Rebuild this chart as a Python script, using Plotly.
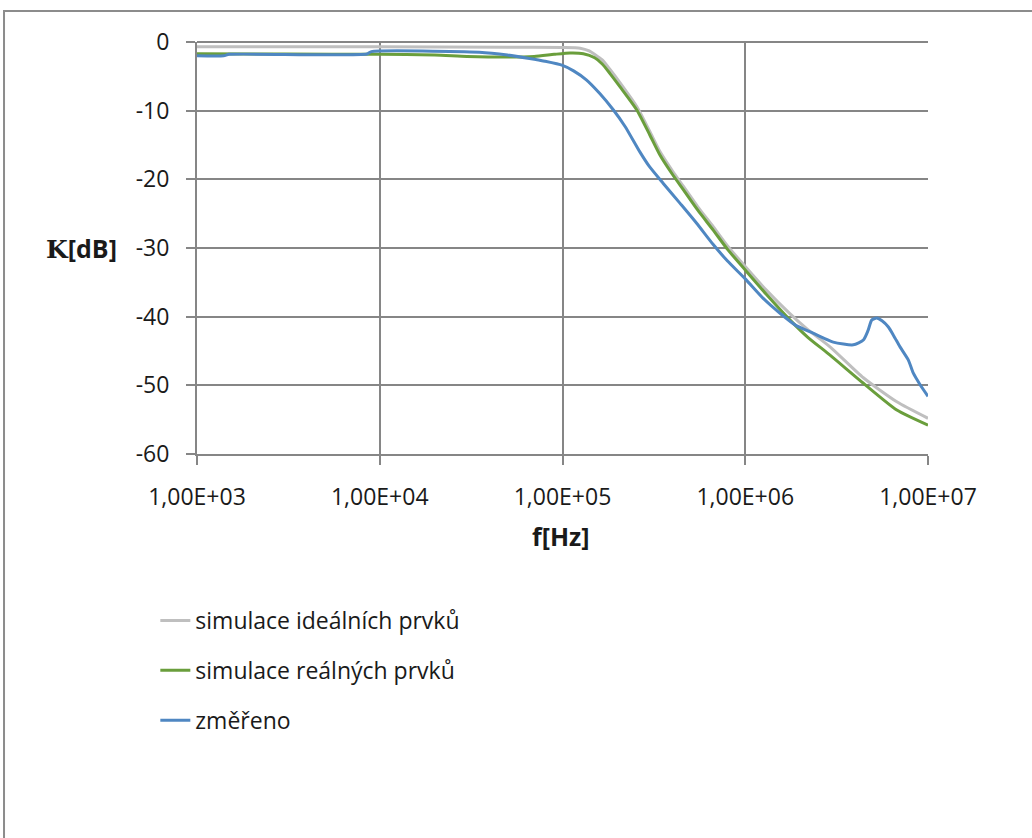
import plotly.graph_objects as go

# ---- data ----
f_ideal = [1e3, 1e4, 5e4, 1e5, 1.25e5, 1.4e5, 1.5e5, 1.65e5, 1.82e5, 2.1e5, 2.55e5,
           3.0e5, 3.42e5, 4e5, 4.58e5, 5.5e5, 6.68e5, 8e5, 1e6, 1.3e6, 1.76e6,
           2.2e6, 2.91e6, 4.43e6, 6.75e6, 1e7]
k_ideal = [-0.7, -0.7, -0.75, -0.8, -0.9, -1.3, -1.8, -2.6, -4.0, -6.2, -9.4,
           -13.0, -16.0, -18.8, -21.0, -24.0, -26.9, -29.7, -32.7, -36.1, -39.6,
           -41.9, -44.4, -48.9, -52.4, -54.8]

f_real = [1e3, 3e3, 1e4, 2e4, 3e4, 5e4, 7e4, 9e4, 1.1e5, 1.3e5, 1.5e5, 1.65e5, 1.82e5,
          2.1e5, 2.55e5, 3.0e5, 3.42e5, 4e5, 4.58e5, 5.5e5, 6.68e5, 8e5, 1e6, 1.3e6,
          1.76e6, 2.2e6, 2.91e6, 4.43e6, 6.75e6, 1e7]
k_real = [-1.7, -1.75, -1.8, -1.9, -2.1, -2.2, -2.1, -1.8, -1.6, -1.7, -2.3, -3.2, -4.6,
          -6.8, -9.9, -13.5, -16.5, -19.3, -21.5, -24.5, -27.4, -30.2, -33.2, -36.7,
          -40.5, -43.0, -45.6, -49.7, -53.6, -55.8]

f_meas = [1e3, 1.4e3, 1.5e3, 8.5e3, 9e3, 3.5e4, 5e4, 6.6e4, 8e4, 1e5, 1.15e5, 1.35e5,
          1.6e5, 1.9e5, 2.2e5, 2.65e5, 3.0e5, 3.56e5, 4.4e5, 5.42e5, 6.68e5, 8e5, 1e6,
          1.25e6, 1.55e6, 1.9e6, 2.35e6, 3.03e6, 3.9e6, 4.43e6, 4.7e6, 4.92e6, 5.24e6,
          5.6e6, 6.07e6, 6.5e6, 7.03e6, 7.8e6, 8.3e6, 9e6, 1e7]
k_meas = [-2.0, -2.0, -1.8, -1.75, -1.4, -1.5, -1.9, -2.4, -2.8, -3.4, -4.2, -5.5,
          -7.5, -9.9, -12.3, -16.0, -18.2, -20.6, -23.5, -26.4, -29.5, -31.9, -34.5,
          -37.3, -39.5, -41.3, -42.4, -43.7, -44.1, -43.4, -42.0, -40.5, -40.2,
          -40.6, -41.5, -42.8, -44.4, -46.3, -48.2, -49.8, -51.6]

names = ["simulace ideálních prvků", "simulace reálných prvků", "změřeno"]
colors = ["#BFBFBF", "#6A9E3C", "#4F87C2"]

x_tickvals = [1e3, 1e4, 1e5, 1e6, 1e7]
x_ticktext = ["1,00E+03", "1,00E+04", "1,00E+05", "1,00E+06", "1,00E+07"]
y_tickvals = [0, -10, -20, -30, -40, -50, -60]
y_ticktext = ["0", "-10", "-20", "-30", "-40", "-50", "-60"]

FONT = "Open Sans"
TXT = "#1a1a1a"
GRID = "#868686"

fig = go.Figure()
for i, (fx, ky) in enumerate([(f_ideal, k_ideal), (f_real, k_real), (f_meas, k_meas)]):
    fig.add_trace(go.Scatter(
        x=fx, y=ky, mode="lines", name=names[i], legendgroup=f"g{i}",
        line=dict(color=colors[i], width=3, shape="spline", smoothing=0.6),
    ))

fig.update_layout(
    width=1032, height=838,
    margin=dict(l=197, r=104, t=42, b=384),
    paper_bgcolor="white", plot_bgcolor="white",
    font=dict(family=FONT, size=23, color=TXT),
    showlegend=True,
    legend=dict(
        x=-0.057, xanchor="left", y=-0.352, yanchor="top",
        font=dict(family=FONT, size=23, color=TXT),
        tracegroupgap=17, bgcolor="rgba(0,0,0,0)",
    ),
    xaxis=dict(
        type="log", range=[3, 7],
        tickvals=x_tickvals, ticktext=x_ticktext,
        showgrid=True, gridcolor=GRID, gridwidth=2,
        showline=True, linecolor=GRID, linewidth=2,
        ticks="outside", ticklen=9, tickwidth=2, tickcolor=GRID,
        ticklabelstandoff=12,
        tickfont=dict(family=FONT, size=23, color=TXT),
        zeroline=False,
    ),
    yaxis=dict(
        range=[-60, 0], tickvals=y_tickvals, ticktext=y_ticktext,
        showgrid=True, gridcolor=GRID, gridwidth=2,
        showline=True, linecolor=GRID, linewidth=2, mirror=False,
        ticks="outside", ticklen=9, tickwidth=2, tickcolor=GRID,
        ticklabelstandoff=12,
        tickfont=dict(family=FONT, size=23, color=TXT),
        zeroline=False,
    ),
    shapes=[
        dict(type="rect", xref="paper", yref="paper",
             x0=-0.264, x1=2.0, y0=-2.0, y1=1.0752,
             line=dict(color="#8C8C8C", width=2), fillcolor="rgba(0,0,0,0)",
             layer="below"),
        dict(type="line", xref="paper", yref="paper", x0=0, x1=1, y0=1, y1=1,
             line=dict(color=GRID, width=2)),
    ],
    annotations=[
        dict(text="<b><span style=\"font-family:'DejaVu Serif'\">K</span>[dB]</b>",
             xref="paper", yref="paper", x=(82 - 197) / 731, y=(454 - 248) / 412,
             xanchor="center", yanchor="middle", showarrow=False,
             font=dict(family=FONT, size=25, color=TXT)),
        dict(text="<b>f[Hz]</b>", xref="paper", yref="paper",
             x=(561 - 197) / 731, y=(454 - 536) / 412,
             xanchor="center", yanchor="middle", showarrow=False,
             font=dict(family=FONT, size=25, color=TXT)),
    ],
)

fig.write_html(
    "out.html",
    config={"displayModeBar": False},
    post_script="document.body.style.margin='0';document.body.style.padding='0';",
)
